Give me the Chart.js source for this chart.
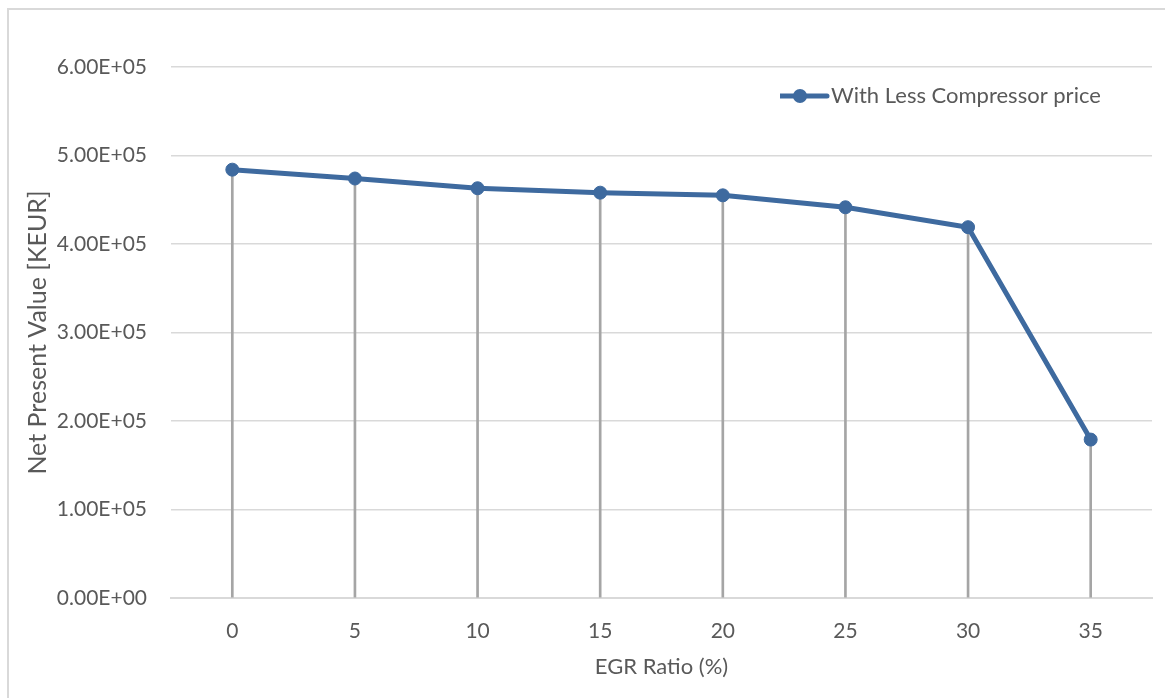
<!DOCTYPE html>
<html>
<head>
<meta charset="utf-8">
<title>Net Present Value vs EGR Ratio</title>
<script src="https://cdn.jsdelivr.net/npm/chart.js@4/dist/chart.umd.min.js"></script>
<style>
  html, body { margin: 0; padding: 0; background: #ffffff; overflow: hidden; }
  #frame {
    position: absolute; left: 7px; top: 8px; width: 1300px; height: 900px;
    border-left: 2px solid #d9d9d9; border-top: 2px solid #d9d9d9;
  }
  #c { position: absolute; left: 0; top: 0; }
</style>
</head>
<body>
<div id="frame"></div>
<canvas id="c" width="1165" height="698"></canvas>
<script>
// EGR ratio categories (%)
const egrRatio = ['0', '5', '10', '15', '20', '25', '30', '35'];
// Net present value [KEUR] with the lower compressor price
const npvLessCompressor = [484000, 474000, 463000, 458000, 455000, 441500, 419000, 179000];
// Value axis range
const yMin = 0;
const yMax = 600000;
const yStep = 100000;

const seriesName = 'With Less Compressor price';
const lineColor = '#3e6a9f';
const dropColor = '#a5a5a5';
const textColor = '#595959';
const gridColor = '#d9d9d9';
const fontFamily = "Lato, 'Open Sans', 'DejaVu Sans', sans-serif";

// Excel-style scientific labels: 6.00E+05
function sci(v) {
  const [m, e] = Number(v).toExponential(2).split('e');
  const sign = e[0] === '-' ? '-' : '+';
  const digits = e.replace(/[+-]/, '').padStart(2, '0');
  return m + 'E' + sign + digits;
}

// Legend swatch: line with a round marker in the middle
function legendSwatch() {
  const cv = document.createElement('canvas');
  cv.width = 62; cv.height = 16;
  const g = cv.getContext('2d');
  g.strokeStyle = lineColor;
  g.lineWidth = 5;
  g.lineCap = 'round';
  g.beginPath(); g.moveTo(4, 8); g.lineTo(58, 8); g.stroke();
  g.fillStyle = lineColor;
  g.beginPath(); g.arc(31, 8, 7, 0, Math.PI * 2); g.fill();
  return cv;
}
const swatch = legendSwatch();

// Place the legend inside the plot area, near its upper right corner
const legendPlacer = {
  id: 'legendPlacer',
  afterLayout(chart) {
    const lg = chart.legend;
    if (!lg) return;
    const w = lg.width, h = lg.height;
    lg.left = 780; lg.right = lg.left + w;
    lg.top = 85; lg.bottom = lg.top + h;
  }
};

new Chart(document.getElementById('c'), {
  type: 'line',
  data: {
    labels: egrRatio,
    datasets: [
      {
        type: 'line',
        label: seriesName,
        data: npvLessCompressor,
        borderColor: lineColor,
        backgroundColor: lineColor,
        borderWidth: 5,
        pointRadius: 6.5,
        pointBorderWidth: 1,
        pointBorderColor: lineColor,
        pointBackgroundColor: lineColor,
        tension: 0,
        order: 0
      },
      {
        // drop lines from each point down to the category axis
        type: 'bar',
        label: 'drop',
        data: npvLessCompressor,
        backgroundColor: dropColor,
        borderWidth: 0,
        barThickness: 2,
        order: 1
      }
    ]
  },
  options: {
    responsive: false,
    animation: false,
    devicePixelRatio: 1,
    layout: { padding: { top: 67, right: 13, left: 0, bottom: 0 } },
    plugins: {
      tooltip: { enabled: false },
      legend: {
        position: 'chartArea',
        align: 'start',
        labels: {
          usePointStyle: true,
          pointStyle: swatch,
          pointStyleWidth: 40,
          padding: 0,
          color: textColor,
          font: { family: fontFamily, size: 22 },
          generateLabels: () => [{
            text: seriesName,
            fontColor: textColor,
            pointStyle: swatch,
            datasetIndex: 0,
            hidden: false,
            lineWidth: 0,
            strokeStyle: 'rgba(0,0,0,0)',
            fillStyle: 'rgba(0,0,0,0)'
          }]
        }
      }
    },
    scales: {
      x: {
        type: 'category',
        offset: true,
        grid: { display: false, drawTicks: false },
        border: { display: true, color: gridColor, width: 2 },
        ticks: { color: textColor, font: { family: fontFamily, size: 21 }, padding: 21, maxRotation: 0 },
        title: {
          display: true,
          text: 'EGR Ratio (%)',
          color: textColor,
          font: { family: fontFamily, size: 22 },
          padding: { top: 0, bottom: 18 }
        },
        afterFit(scale) { scale.height = 100; }
      },
      y: {
        min: yMin,
        max: yMax,
        grid: { color: gridColor, lineWidth: 1.5, drawTicks: false },
        border: { display: false },
        ticks: {
          stepSize: yStep,
          color: textColor,
          font: { family: fontFamily, size: 21 },
          padding: 24,
          callback: (v) => sci(v)
        },
        title: {
          display: true,
          text: 'Net Present Value [KEUR]',
          color: textColor,
          font: { family: fontFamily, size: 25 },
          padding: { top: 23, bottom: 0 }
        },
        afterFit(scale) { scale.width = 171; }
      }
    }
  },
  plugins: [legendPlacer]
});
</script>
</body>
</html>
